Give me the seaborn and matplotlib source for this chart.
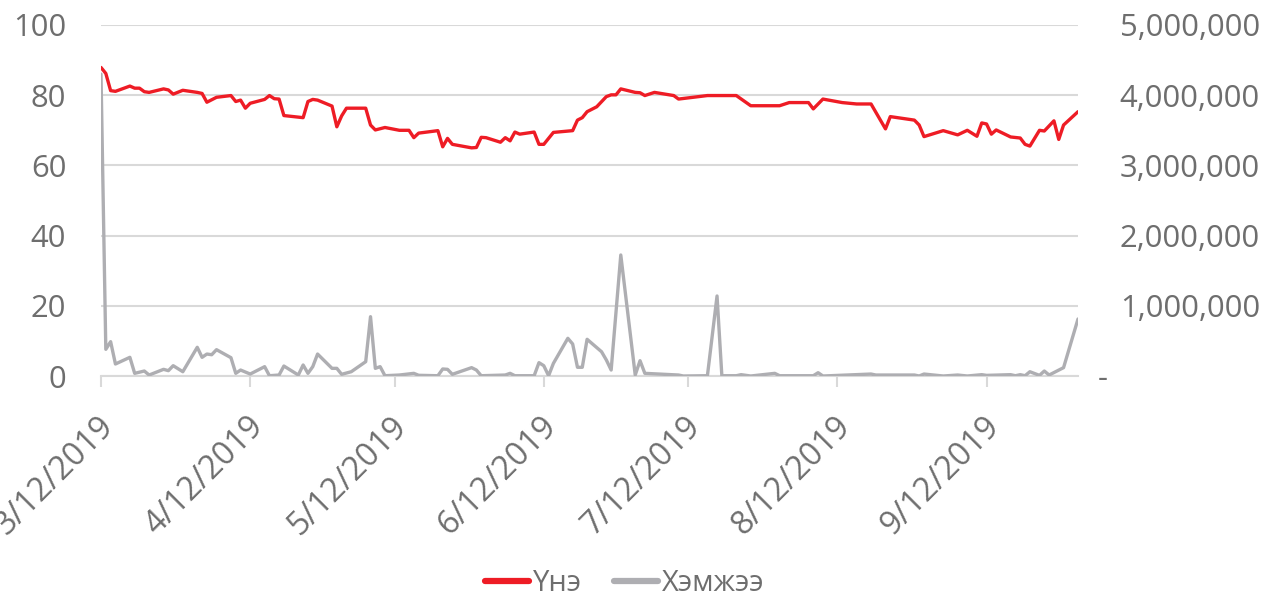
import matplotlib
matplotlib.use("Agg")
import matplotlib.pyplot as plt
import matplotlib.dates as mdates
import matplotlib.ticker as mticker
from matplotlib.transforms import ScaledTranslation
import seaborn as sns
import pandas as pd

# ---------------- data ----------------
price_dates = [
    "2019-03-12", "2019-03-13", "2019-03-14", "2019-03-15", "2019-03-18", "2019-03-19",
    "2019-03-20", "2019-03-21", "2019-03-22", "2019-03-25", "2019-03-26", "2019-03-27",
    "2019-03-29", "2019-04-01", "2019-04-02", "2019-04-03", "2019-04-05", "2019-04-08",
    "2019-04-09", "2019-04-10", "2019-04-11", "2019-04-12", "2019-04-15", "2019-04-16",
    "2019-04-17", "2019-04-18", "2019-04-19", "2019-04-23", "2019-04-24", "2019-04-25",
    "2019-04-26", "2019-04-29", "2019-04-30", "2019-05-01", "2019-05-02", "2019-05-06",
    "2019-05-07", "2019-05-08", "2019-05-10", "2019-05-13", "2019-05-15", "2019-05-16",
    "2019-05-17", "2019-05-21", "2019-05-22", "2019-05-23", "2019-05-24", "2019-05-28",
    "2019-05-29", "2019-05-30", "2019-05-31", "2019-06-03", "2019-06-04", "2019-06-05",
    "2019-06-06", "2019-06-07", "2019-06-10", "2019-06-11", "2019-06-12", "2019-06-14",
    "2019-06-18", "2019-06-19", "2019-06-20", "2019-06-21", "2019-06-23", "2019-06-25",
    "2019-06-26", "2019-06-27", "2019-06-28", "2019-07-01", "2019-07-02", "2019-07-03",
    "2019-07-05", "2019-07-09", "2019-07-10", "2019-07-16", "2019-07-22", "2019-07-25",
    "2019-07-31", "2019-08-02", "2019-08-06", "2019-08-07", "2019-08-09", "2019-08-13",
    "2019-08-16", "2019-08-19", "2019-08-22", "2019-08-23", "2019-08-28", "2019-08-29",
    "2019-08-30", "2019-09-03", "2019-09-06", "2019-09-08", "2019-09-10", "2019-09-11",
    "2019-09-12", "2019-09-13", "2019-09-14", "2019-09-17", "2019-09-19", "2019-09-20",
    "2019-09-21", "2019-09-23", "2019-09-24", "2019-09-26", "2019-09-27", "2019-09-28",
    "2019-10-01",
]
price_values = [
    87.9, 86.2, 81.3, 81.1, 82.6, 82.0,
    82.0, 81.0, 80.8, 81.8, 81.5, 80.3,
    81.4, 80.8, 80.5, 78.0, 79.4, 79.9,
    78.2, 78.6, 76.3, 77.7, 78.8, 79.9,
    79.0, 78.9, 74.2, 73.6, 78.2, 78.8,
    78.6, 76.9, 71.0, 74.1, 76.3, 76.3,
    71.5, 70.1, 70.8, 70.0, 70.0, 67.9,
    69.2, 69.9, 65.3, 67.7, 66.0, 65.0,
    65.1, 68.0, 67.9, 66.6, 67.9, 67.0,
    69.5, 68.9, 69.5, 66.0, 66.0, 69.4,
    69.9, 72.9, 73.6, 75.3, 76.7, 79.6,
    80.1, 80.1, 81.8, 80.8, 80.7, 79.9,
    80.8, 79.9, 78.9, 79.9, 79.9, 77.0,
    77.0, 77.9, 77.9, 76.1, 78.9, 77.9,
    77.5, 77.5, 70.4, 73.9, 72.9, 71.5,
    68.2, 69.9, 68.7, 70.0, 68.3, 72.1,
    71.8, 68.9, 70.1, 68.1, 67.8, 66.0,
    65.5, 70.0, 69.8, 72.7, 67.4, 71.5,
    75.3,
]

volume_dates = [
    "2019-03-12", "2019-03-13", "2019-03-14", "2019-03-15", "2019-03-18", "2019-03-19",
    "2019-03-21", "2019-03-22", "2019-03-25", "2019-03-26", "2019-03-27", "2019-03-29",
    "2019-04-01", "2019-04-02", "2019-04-03", "2019-04-04", "2019-04-05", "2019-04-08",
    "2019-04-09", "2019-04-10", "2019-04-12", "2019-04-15", "2019-04-16", "2019-04-18",
    "2019-04-19", "2019-04-22", "2019-04-23", "2019-04-24", "2019-04-25", "2019-04-26",
    "2019-04-29", "2019-04-30", "2019-05-01", "2019-05-03", "2019-05-06", "2019-05-07",
    "2019-05-08", "2019-05-09", "2019-05-10", "2019-05-13", "2019-05-16", "2019-05-17",
    "2019-05-21", "2019-05-22", "2019-05-23", "2019-05-24", "2019-05-28", "2019-05-29",
    "2019-05-30", "2019-06-04", "2019-06-05", "2019-06-06", "2019-06-10", "2019-06-11",
    "2019-06-12", "2019-06-13", "2019-06-14", "2019-06-17", "2019-06-18", "2019-06-19",
    "2019-06-20", "2019-06-21", "2019-06-24", "2019-06-25", "2019-06-26", "2019-06-28",
    "2019-07-01", "2019-07-02", "2019-07-03", "2019-07-10", "2019-07-11", "2019-07-16",
    "2019-07-18", "2019-07-19", "2019-07-22", "2019-07-23", "2019-07-25", "2019-07-30",
    "2019-07-31", "2019-08-07", "2019-08-08", "2019-08-09", "2019-08-19", "2019-08-20",
    "2019-08-28", "2019-08-29", "2019-08-30", "2019-09-03", "2019-09-06", "2019-09-08",
    "2019-09-11", "2019-09-12", "2019-09-17", "2019-09-18", "2019-09-19", "2019-09-20",
    "2019-09-21", "2019-09-23", "2019-09-24", "2019-09-25", "2019-09-28", "2019-10-01",
]
volume_values = [
    4300000, 380000, 489000, 171000, 266000, 38000,
    71000, 14000, 95000, 76000, 147000, 61000,
    409000, 266000, 313000, 303000, 375000, 261000,
    38000, 85000, 28000, 133000, 4000, 14000,
    142000, 14000, 157000, 38000, 133000, 313000,
    109000, 109000, 24000, 61000, 204000, 845000,
    109000, 133000, 4000, 14000, 38000, 10000,
    4000, 100000, 95000, 24000, 119000, 85000,
    4000, 14000, 38000, 4000, 4000, 190000,
    147000, 4000, 180000, 537000, 456000, 124000,
    124000, 523000, 346000, 228000, 85000, 1724000,
    14000, 218000, 38000, 14000, 0, 4000,
    1140000, 4000, 4000, 19000, 0, 38000,
    4000, 4000, 47000, 0, 28000, 14000,
    14000, 0, 28000, 0, 14000, 0,
    19000, 9000, 19000, 4000, 19000, 4000,
    61000, 9000, 71000, 14000, 119000, 812000,
]

series_names = ["Үнэ", "Хэмжээ"]
left_ticks = [0, 20, 40, 60, 80, 100]
right_ticks = [0, 1000000, 2000000, 3000000, 4000000, 5000000]

# ---------------- style ----------------
sns.set_style("white")
plt.rcParams["font.family"] = ["Open Sans", "DejaVu Sans"]
TXT = "#6e6e6e"
GRID = "#d9d9d9"
RED = "#ee1c25"
GRAY = "#aeaeb2"
FS_Y = 22.3
FS_X = 23.3
FS_LEG = 21

price_df = pd.DataFrame({"date": pd.to_datetime(price_dates), "value": price_values})
vol_df = pd.DataFrame({"date": pd.to_datetime(volume_dates), "value": volume_values})

fig = plt.figure(figsize=(12.75, 5.99), dpi=100)
ax = fig.add_axes([101 / 1275, 1 - 376 / 599, (1078 - 101) / 1275, (376 - 25) / 599])
ax2 = ax.twinx()

sns.lineplot(data=price_df, x="date", y="value", ax=ax, color=RED, lw=2.4,
             legend=False, zorder=3)
sns.lineplot(data=vol_df, x="date", y="value", ax=ax2, color=GRAY, lw=2.4,
             legend=False, zorder=2)

xmin = min(price_df["date"].min(), vol_df["date"].min())
xmax = max(price_df["date"].max(), vol_df["date"].max())
ax.set_xlim(xmin, xmax)
ax.set_ylim(0, 100)
ax2.set_ylim(0, 5000000)
ax.set_xlabel("")
ax.set_ylabel("")
ax2.set_ylabel("")
ax2.set_xlabel("")

ax.yaxis.set_major_locator(mticker.FixedLocator(left_ticks))
ax2.yaxis.set_major_locator(mticker.FixedLocator(right_ticks))
ax2.yaxis.set_major_formatter(mticker.FuncFormatter(
    lambda v, p: "-" if v == 0 else f"{int(v):,}"))

ax.xaxis.set_major_locator(mdates.MonthLocator(bymonthday=12))
ax.xaxis.set_major_formatter(mticker.FuncFormatter(
    lambda v, p: (lambda d: f"{d.month}/{d.day}/{d.year}")(mdates.num2date(v))))

ax.grid(axis="y", color=GRID, lw=1.5)
ax.grid(axis="x", visible=False)
ax2.grid(False)
ax.set_axisbelow(True)

for a in (ax, ax2):
    for s in a.spines.values():
        s.set_visible(False)
ax.spines["bottom"].set_visible(True)
ax.spines["bottom"].set_color(GRID)
ax.spines["bottom"].set_linewidth(1.5)

ax.tick_params(axis="y", length=0, pad=25, labelsize=FS_Y, labelcolor=TXT)
ax2.tick_params(axis="y", length=0, pad=30, labelsize=FS_Y, labelcolor=TXT)
ax.tick_params(axis="x", direction="out", length=8, width=1.5, color=GRID,
               pad=25, labelsize=FS_X, labelcolor=TXT, bottom=True)

fig.canvas.draw()
for lab in ax.get_xticklabels():
    lab.set_rotation(45)
    lab.set_ha("right")
    lab.set_va("center")
    lab.set_rotation_mode("anchor")
    lab.set_transform(lab.get_transform() + ScaledTranslation(8 / 100, 0, fig.dpi_scale_trans))

# zero label on the right axis sits a bit further left (accounting style dash)
for lab in ax2.get_yticklabels():
    if lab.get_text() == "-":
        lab.set_transform(lab.get_transform() + ScaledTranslation(-22 / 100, 0, fig.dpi_scale_trans))

handles = [ax.get_lines()[0], ax2.get_lines()[0]]
leg = fig.legend(handles, series_names, loc="center", bbox_to_anchor=(0.49, 0.026),
                 ncol=2, frameon=False, fontsize=FS_LEG, handlelength=1.5,
                 handletextpad=0.15, columnspacing=1.1)
for t in leg.get_texts():
    t.set_color(TXT)
for h in leg.get_lines():
    h.set_linewidth(4.5)
    h.set_solid_capstyle("round")

fig.savefig("out.png", dpi=100)
